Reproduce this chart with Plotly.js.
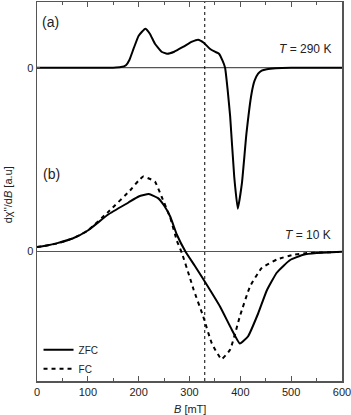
<!DOCTYPE html>
<html>
<head>
<meta charset="utf-8">
<script src="https://cdn.plot.ly/plotly-3.0.1.min.js"></script>
<style>html,body{margin:0;padding:0;background:#fff;}#chart{width:351px;height:415px;}</style>
</head>
<body>
<div id="chart"></div>
<script>
// Panel (a): T = 290 K
const bA = [0, 100, 150, 165, 175, 182, 190, 200, 213, 222, 232, 245, 256, 270, 288, 305, 317, 328, 340, 350, 358, 365, 370, 375, 380, 388, 395, 403, 412, 422, 428, 435, 442, 452, 470, 500, 600];
const sigA = [0, 0, 0, 0.6, 2.5, 8, 19, 32, 39, 34, 24, 16, 14, 16, 21, 26, 28, 25, 19, 16, 14, 7, 0, -22, -49, -109, -141, -116, -66, -26, -13, -6, -3, -1.5, -0.5, 0, 0];
// Panel (b): T = 10 K, ZFC
const bZFC = [0, 20, 40, 70, 100, 140, 180, 200, 220, 238, 250, 262, 275, 292, 310, 330, 360, 383, 399, 415, 435, 452, 472, 498, 524, 550, 600];
const sigZFC = [4.4, 6, 8.4, 13, 21, 37, 49, 55, 57.4, 53.4, 46, 35, 17, 0, -14, -30, -55, -78, -92, -85, -62, -39, -21, -8.5, -3.3, -1.6, -0.3];
// Panel (b): T = 10 K, FC
const bFC = [0, 40, 70, 100, 143, 183, 200, 209, 220, 232, 245, 262, 275, 285, 300, 308, 327, 344, 363, 380, 399, 419, 442, 472, 504, 531, 600];
const sigFC = [4.4, 8, 13, 21, 41, 61, 71, 75, 73, 70, 55, 34, 11, -1.6, -25, -38, -65, -92, -107.6, -98, -65, -35, -16.6, -8, -3.3, -1.6, -0.3];
// vertical offsets of the two stacked panels
const offsetA = 313.3;
const offsetB = 129.5;
const xTicks = [0, 100, 200, 300, 400, 500, 600];
const markerB = 330;

const FONT = "Liberation Sans, Arial, Helvetica, sans-serif";

const traces = [
  {x: bA, y: sigA.map(v => v + offsetA), mode: 'lines', line: {color: '#000', width: 2, shape: 'spline', smoothing: 0.4}, showlegend: false},
  {x: bZFC, y: sigZFC.map(v => v + offsetB), mode: 'lines', name: 'ZFC', line: {color: '#000', width: 2, shape: 'spline', smoothing: 0.4}},
  {x: bFC, y: sigFC.map(v => v + offsetB), mode: 'lines', name: 'FC', line: {color: '#000', width: 2, dash: '4px,4px', shape: 'spline', smoothing: 0.4}}
];

const layout = {
  width: 351, height: 415,
  margin: {l: 37, r: 9, t: 2, b: 34},
  paper_bgcolor: '#fff', plot_bgcolor: '#fff',
  font: {family: FONT, size: 11, color: '#222'},
  xaxis: {
    range: [0, 600], tickvals: xTicks, ticktext: xTicks.map(String),
    ticks: 'inside', ticklen: 5, tickcolor: '#555', tickwidth: 1,
    minor: {dtick: 50, tick0: 0, ticks: 'inside', ticklen: 3, tickcolor: '#555'},
    showline: true, linecolor: '#555', linewidth: 1.5, mirror: 'allticks',
    showgrid: false, zeroline: false, ticklabeloverflow: 'allow',
    tickfont: {family: FONT, size: 11, color: '#222'}
  },
  yaxis: {
    range: [0, 379], tickvals: [offsetB, offsetA], ticktext: ['0', '0'],
    ticks: 'inside', ticklen: 3, tickcolor: '#555',
    showline: true, linecolor: '#555', linewidth: 1.5, mirror: true,
    showgrid: false, zeroline: false,
    tickfont: {family: FONT, size: 11, color: '#222'}
  },
  showlegend: true,
  legend: {x: 0.005, y: -0.006, xanchor: 'left', yanchor: 'bottom', bgcolor: 'rgba(0,0,0,0)',
           font: {family: FONT, size: 10, color: '#222'}, tracegroupgap: 0, itemwidth: 30},
  shapes: [
    {type: 'line', xref: 'paper', x0: 0, x1: 1, yref: 'y', y0: offsetA, y1: offsetA, line: {color: '#555', width: 1.2}, layer: 'below'},
    {type: 'line', xref: 'paper', x0: 0, x1: 1, yref: 'y', y0: offsetB, y1: offsetB, line: {color: '#555', width: 1.2}, layer: 'below'},
    {type: 'line', xref: 'x', x0: markerB, x1: markerB, yref: 'paper', y0: 0, y1: 1, line: {color: '#000', width: 1, dash: 'dot'}}
  ],
  annotations: [
    {text: '(a)', xref: 'x', x: 26, yref: 'y', y: 359, showarrow: false, xanchor: 'center', yanchor: 'middle', font: {family: FONT, size: 14, color: '#222'}},
    {text: '(b)', xref: 'x', x: 29, yref: 'y', y: 207, showarrow: false, xanchor: 'center', yanchor: 'middle', font: {family: FONT, size: 14, color: '#222'}},
    {text: '<i>T</i> = 290 K', xref: 'x', x: 582, yref: 'y', y: 332, showarrow: false, xanchor: 'right', yanchor: 'middle', font: {family: FONT, size: 12, color: '#222'}},
    {text: '<i>T</i> = 10 K', xref: 'x', x: 582, yref: 'y', y: 146, showarrow: false, xanchor: 'right', yanchor: 'middle', font: {family: FONT, size: 12, color: '#222'}},
    {text: '<i>B</i> [mT]', xref: 'paper', x: 0.5, yref: 'paper', y: -0.073, showarrow: false, xanchor: 'center', yanchor: 'middle', font: {family: FONT, size: 11, color: '#222'}},
    {text: 'dχ\'\'/d<i>B</i> [a.u]', xref: 'paper', x: -0.095, yref: 'paper', y: 0.49, showarrow: false, textangle: -90, xanchor: 'center', yanchor: 'middle', font: {family: FONT, size: 11, color: '#222'}}
  ]
};

Plotly.newPlot('chart', traces, layout, {displayModeBar: false, staticPlot: true});
</script>
</body>
</html>
